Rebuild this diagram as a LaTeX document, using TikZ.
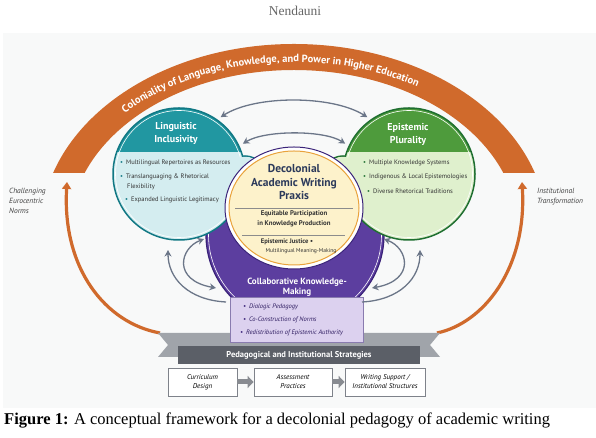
\documentclass[tikz,border=0pt]{standalone}
\usepackage{fontspec}
\setmainfont{Liberation Serif}
\newfontfamily\figfont{PT Sans}
\usetikzlibrary{arrows.meta,decorations.text,shapes.geometric,calc}

\definecolor{bandorange}{HTML}{D06A2C}
\definecolor{tealdark}{HTML}{2197A1}
\definecolor{tealline}{HTML}{117884}
\definecolor{teallight}{HTML}{D4EDF0}
\definecolor{greendark}{HTML}{4E9B3C}
\definecolor{greenline}{HTML}{1F6F31}
\definecolor{greenlight}{HTML}{DFF0CD}
\definecolor{cream}{HTML}{FDF2CB}
\definecolor{ringorange}{HTML}{E9A23B}
\definecolor{navytext}{HTML}{2C3A5B}
\definecolor{purplemain}{HTML}{5C3E9F}
\definecolor{purpleline}{HTML}{3A2379}
\definecolor{purplelight}{HTML}{DCD1EF}
\definecolor{arrowgray}{HTML}{6B7688}
\definecolor{ribbondark}{HTML}{5B5F67}
\definecolor{ribbonlight}{HTML}{A0A4AA}
\definecolor{boxline}{HTML}{7E828A}
\definecolor{panelbg}{HTML}{F8F9F9}

\tikzset{
  hub/.style={circle, minimum size=132pt, inner sep=0pt, line width=1.5pt},
  cap/.style={path picture={\fill[#1] (path picture bounding box.north west)
      rectangle ([yshift=22pt]path picture bounding box.east);}},
  hubtitle/.style={font=\figfont\bfseries\fontsize{10}{13}\selectfont, text=white, align=center},
  bullet/.style={anchor=west, inner sep=0pt, font=\figfont\fontsize{6.5}{7.5}\selectfont, text=black!80},
  link/.style={arrowgray, line width=1.3pt, >={Stealth[length=6.5pt,width=7pt]}},
  feedback/.style={bandorange, line width=3.2pt, -{Triangle[length=7pt,width=9pt]}},
  stepbox/.style={draw=boxline, fill=white, line width=0.8pt, minimum height=28pt,
    align=center, inner sep=1pt, font=\figfont\itshape\fontsize{7}{9}\selectfont},
  sidenote/.style={anchor=west, inner sep=0pt, align=left, text=black!75,
    font=\figfont\itshape\fontsize{7.5}{10}\selectfont},
}
\newcommand\tb{\textcolor{tealline}{\textbullet}\hspace{3pt}}
\newcommand\gb{\textcolor{greenline}{\textbullet}\hspace{3pt}}
\newcommand\pb{\textcolor{purpleline}{\textbullet}\hspace{3pt}}

\begin{document}
\begin{tikzpicture}[x=1pt,y=1pt]
\useasboundingbox (0,0) rectangle (596,438);
\node[font=\fontsize{13.5}{15}\selectfont, text=black!60] (runhead) at (295,427) {Nendauni};
\fill[panelbg] (3,30) rectangle (596,405);

% Outer band
\begin{scope}
\clip (0,265) rectangle (596,438);
\fill[bandorange, even odd rule] (294,208) ellipse [x radius=253, y radius=186]
  (294,208) ellipse [x radius=224, y radius=160];
\end{scope}
\path[decorate, decoration={text along path, text align={left indent=0pt},
  text={|\figfont\bfseries\fontsize{10.5}{12}\selectfont\color{white}|Coloniality of Language, Knowledge, and Power in Higher Education}}]
  (294,208) ++(136:235 and 168) arc[start angle=136, end angle=30, x radius=235, y radius=168];

% Feedback arrows
\coordinate (lefttail) at (160,105);
\coordinate (lefttop) at (67,256);
\coordinate (righttail) at (437,105);
\coordinate (righttop) at (522,256);
\draw[feedback] (lefttail) .. controls (105,115) and (62,170) .. (lefttop);
\draw[feedback] (righttail) .. controls (484,115) and (527,170) .. (righttop);
\node[sidenote] (challenge) at (9,237) {Challenging\\Eurocentric\\Norms};
\node[sidenote] (transform) at (537,241) {Institutional\\Transformation};

% Ribbon tails
\fill[ribbonlight] (158,105) -- (440,105) -- (430,93) -- (440,81) -- (158,81) -- (168,93) -- cycle;

% Collaborative knowledge-making
\begin{scope}
\clip (150,0) rectangle (450,248);
\fill[purplemain, draw=purpleline, line width=1.2pt] (295,203) circle (89);
\draw[white, line width=0.6pt] (295,203) circle (86.5);
\end{scope}

% Two side circles, each with a small bulge towards the centre
\filldraw[fill=teallight, draw=tealline, line width=1.5pt] (245,262) circle (20);
\node[hub, fill=teallight, draw=tealline, cap=tealdark] (lin) at (179,264) {};
\draw[white, line width=0.6pt] (lin.center) circle (63.5);
\fill[teallight] (245,262) circle (19.2);
\node[hubtitle] (lintitle) at (176,305) {Linguistic\\Inclusivity};
\node[bullet] (lin1) at (120,275) {\tb Multilingual Repertoires as Resources};
\node[bullet] (lin2) at (120,261) {\tb Translanguaging \& Rhetorical};
\node[bullet] (lin3) at (127,251) {Flexibility};
\node[bullet] (lin4) at (125,238) {\tb Expanded Linguistic Legitimacy};

\filldraw[fill=greenlight, draw=greenline, line width=1.5pt] (343,262) circle (20);
\node[hub, fill=greenlight, draw=greenline, cap=greendark] (epi) at (409,264) {};
\draw[white, line width=0.6pt] (epi.center) circle (63.5);
\fill[greenlight] (343,262) circle (19.2);
\node[hubtitle] (epititle) at (408,304) {Epistemic\\Plurality};
\node[bullet] (epi1) at (363,275) {\gb Multiple Knowledge Systems};
\node[bullet] (epi2) at (363,261) {\gb Indigenous \& Local Epistemologies};
\node[bullet] (epi3) at (367,247) {\gb Diverse Rhetorical Traditions};

% Centre
\node[ellipse, minimum width=138pt, minimum height=122pt, fill=white, draw=purpleline, line width=1pt] (praxisrim) at (294,230) {};
\node[ellipse, minimum width=130pt, minimum height=114pt, fill=cream, draw=ringorange, line width=1pt] (praxis) at (294,230) {};
\node[font=\figfont\bfseries\fontsize{11.5}{13.5}\selectfont, text=navytext, align=center] (praxistitle) at (294,256) {Decolonial\\Academic Writing\\Praxis};
\draw[black!45, line width=0.6pt] (235,230) -- (353,230);
\node[font=\figfont\bfseries\fontsize{6.8}{10}\selectfont, text=black!80, align=center] (equit) at (294,219) {Equitable Participation\\in Knowledge Production};
\draw[black!45, line width=0.6pt] (242,203) -- (345,203);
\node[font=\figfont\bfseries\fontsize{6.6}{8}\selectfont, text=black!80] (justice) at (287,196) {Epistemic Justice \textbullet};
\node[font=\figfont\fontsize{5.6}{7}\selectfont, text=black!80] (meaning) at (301,187) {Multilingual Meaning-Making};

\node[font=\figfont\bfseries\fontsize{9}{10}\selectfont, text=white, align=center] (collab) at (297,151) {Collaborative Knowledge-\\Making};
\node[draw=purpleline!60, fill=purplelight, minimum width=133pt, minimum height=45pt, line width=0.8pt] (collabbox) at (296.5,118.5) {};
\node[bullet, font=\figfont\itshape\fontsize{6.5}{7.5}\selectfont, text=purpleline!80!black] (col1) at (243,131) {\pb Dialogic Pedagogy};
\node[bullet, font=\figfont\itshape\fontsize{6.5}{7.5}\selectfont, text=purpleline!80!black] (col2) at (243,118) {\pb Co-Construction of Norms};
\node[bullet, font=\figfont\itshape\fontsize{6.5}{7.5}\selectfont, text=purpleline!80!black] (col3) at (240,105) {\pb Redistribution of Epistemic Authority};

% Links between circles
\draw[link, <->, shorten <=4pt, shorten >=4pt] (lin.55) .. controls (255,343) and (332,343) .. (epi.125);
\draw[link, <->, shorten <=4pt, shorten >=4pt] (lin.25) .. controls (265,308) and (324,308) .. (epi.155);
\coordinate (la1) at (204,199);
\coordinate (la2) at (216,150);
\coordinate (lb1) at (168,188);
\coordinate (lb2) at (226,136);
\coordinate (ra1) at (384,199);
\coordinate (ra2) at (372,150);
\coordinate (rb1) at (420,188);
\coordinate (rb2) at (362,136);
\draw[link, <->] (la1) .. controls (180,190) and (172,158) .. (la2);
\draw[link, ->] (lb2) .. controls (188,138) and (168,160) .. (lb1);
\draw[link, <->] (ra1) .. controls (408,190) and (416,158) .. (ra2);
\draw[link, ->] (rb2) .. controls (400,138) and (420,160) .. (rb1);

% Strategies
\node[fill=ribbondark, minimum width=242pt, minimum height=18pt, inner sep=0pt, text=white,
  font=\figfont\bfseries\fontsize{8.5}{10}\selectfont] (strat) at (299,83) {Pedagogical and Institutional Strategies};
\node[stepbox, minimum width=69pt] (curr) at (202.5,56) {Curriculum\\Design};
\node[stepbox, minimum width=78pt] (assess) at (293,56) {Assessment\\Practices};
\node[stepbox, minimum width=80pt] (support) at (385,56) {Writing Support /\\Institutional Structures};
\draw[ribbonlight!85!black, line width=5pt, -{Triangle[length=6pt,width=12pt]}] (curr) -- (assess);
\draw[ribbonlight!85!black, line width=5pt, -{Triangle[length=6pt,width=12pt]}] (assess) -- (support);

\node[anchor=west, inner sep=0pt, font=\fontsize{16.5}{19}\selectfont] (caption) at (4,17)
  {\textbf{Figure 1:} A conceptual framework for a decolonial pedagogy of academic writing};
\end{tikzpicture}
\end{document}
